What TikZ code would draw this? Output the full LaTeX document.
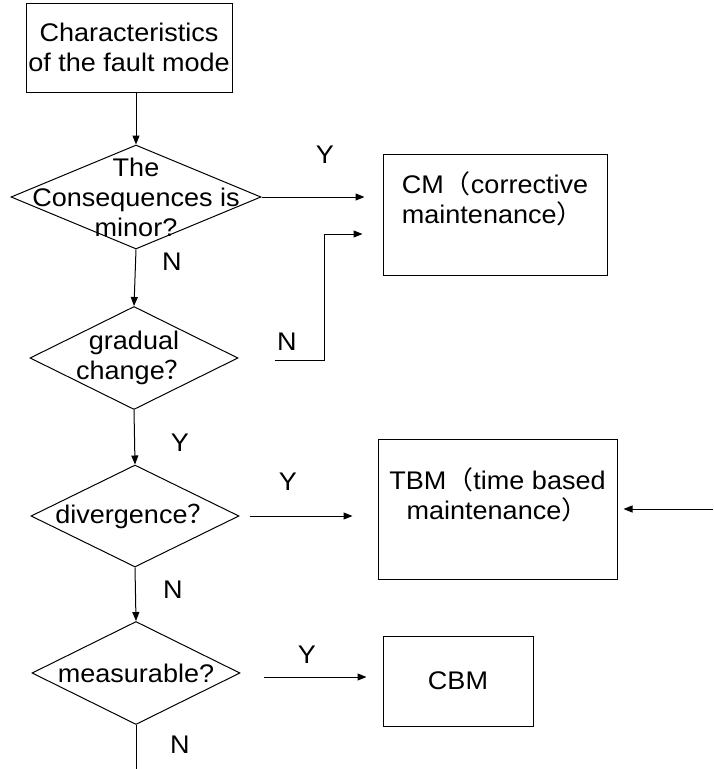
\documentclass[tikz,border=0pt]{standalone}
\usepackage{fontspec}
\setmainfont[FakeStretch=1.06]{Liberation Sans}
\newfontfamily\cjk[FakeStretch=1.06]{Noto Sans CJK SC}
\usepackage{tikz}
\usetikzlibrary{arrows.meta,shapes.geometric}
\newcommand{\lpar}{{\cjk （}}
\newcommand{\rpar}{{\cjk ）}}
\newcommand{\qmark}{{\cjk ？}}

\begin{document}
\begin{tikzpicture}[x=1pt,y=-1pt,line width=1pt,
  every node/.style={font=\fontsize{25.5}{30}\selectfont},
  box/.style={draw,rectangle,inner sep=0pt},
  decision/.style={draw,diamond,inner sep=0pt},
  flow/.style={-{Triangle[length=9pt,width=7pt]}}]
\useasboundingbox (0,0) rectangle (713,769);

\node[box,minimum width=206pt,minimum height=89pt,align=center] (start) at (129,47.5) {Characteristics\\of the fault mode};
\node[decision,minimum width=250pt,minimum height=104pt] (q1) at (136,197) {};
\node[decision,minimum width=208pt,minimum height=103pt] (q2) at (134,358) {};
\node[decision,minimum width=208pt,minimum height=102pt] (q3) at (135,516) {};
\node[decision,minimum width=208pt,minimum height=103pt] (q4) at (136,673) {};
\node[align=center] (q1txt) at (q1) {The\\Consequences is\\minor?};
\node[align=center] (q2txt) at (q2) {gradual\\change\qmark};
\node (q3txt) at (q3) {divergence\qmark};
\node (q4txt) at (q4) {measurable?};

\node[box,minimum width=224pt,minimum height=121pt] (cm) at (495,214.5) {};
\node[align=left] (cmtxt) at ([yshift=15.5pt]cm.center) {CM\lpar corrective\\maintenance\rpar};
\node[box,minimum width=239pt,minimum height=140pt] (tbm) at (497.5,509) {};
\node[align=center] (tbmtxt) at ([yshift=14pt]tbm.center) {TBM\lpar time based\\maintenance\rpar};
\node[box,minimum width=150pt,minimum height=90pt] (cbm) at (458,681) {CBM};

\coordinate (ext) at (713,509);
\coordinate (exit) at (136,769);

\draw[flow] (start.south -| q1.north) -- (q1.north);
\draw[flow] (q1.south) -- (q2.north);
\draw[flow] (q2.south) -- (q3.north);
\draw[flow] (q3.south) -- (q4.north);
\draw (q4.south) -- (exit);

\draw[flow,shorten >=18pt] (q1.east) -- (q1.east -| cm.west);
\draw[flow,shorten >=20pt] ([xshift=36pt,yshift=-2pt]q2.east) -| ([xshift=-58pt,yshift=-19.5pt]cm.west) -- ([yshift=-19.5pt]cm.west);
\draw[flow,shorten <=10pt,shorten >=25pt] (q3.east) -- (q3.east -| tbm.west);
\draw[flow,shorten <=23pt,shorten >=16pt] ([yshift=-4pt]q4.east) -- ([yshift=-4pt]q4.east -| cbm.west);
\draw[flow,shorten >=6pt] (ext) -- (tbm.east);

\node (y1) at (325,155) {Y};
\node (n1) at (172,262) {N};
\node (n2) at (287,342) {N};
\node (y2) at (180,443) {Y};
\node (y3) at (288,482) {Y};
\node (n3) at (173,590) {N};
\node (y4) at (307,655) {Y};
\node (n4) at (180,745) {N};
\end{tikzpicture}
\end{document}
